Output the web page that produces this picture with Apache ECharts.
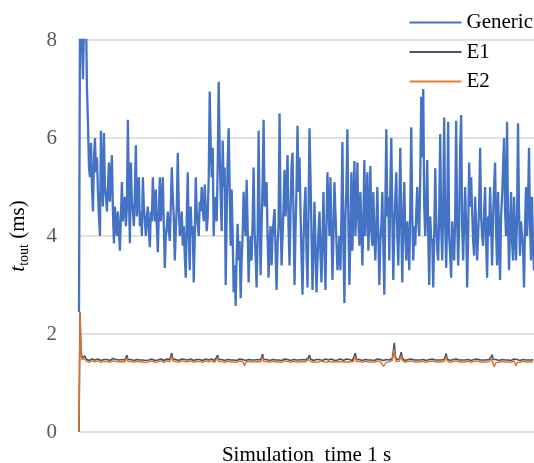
<!DOCTYPE html>
<html>
<head>
<meta charset="utf-8">
<title>t_tout over simulation time</title>
<script src="https://cdn.jsdelivr.net/npm/echarts@6/dist/echarts.min.js"></script>
<style>
  html, body { margin: 0; padding: 0; background: #ffffff; }
  #chart { width: 534px; height: 463px; }
</style>
</head>
<body>
<div id="chart"></div>
<script>
// Series names shown in the legend
const seriesNames = ['Generic', 'E1', 'E2'];
const seriesColors = ['#4472C4', '#44546A', '#ED7D31'];

// Y axis range and tick step (ms)
const yMin = 0;
const yMax = 8;
const yStep = 2;

// Generic timeout samples (ms) over the 1 s simulation
const genericValues = [
  2.45, 8.5, 8.8, 7.9, 7.2, 8.4, 8.6, 8.5, 7.0, 6.3,
  5.4, 5.2, 5.9, 5.0, 4.5, 5.6, 6.0, 5.3, 5.6, 4.9,
  4.4, 4.0, 6.15, 5.2, 4.6, 6.1, 5.0, 4.8, 4.5, 5.0,
  5.5, 4.7, 5.2, 5.65, 4.5, 3.85, 4.6, 4.2, 4.0, 4.5,
  4.1, 3.7, 4.4, 5.1, 4.3, 4.6, 4.8, 4.2, 4.6, 6.37,
  4.8, 3.85, 5.5, 4.7, 4.5, 4.2, 4.9, 5.85, 4.4, 4.8,
  5.2, 4.2, 4.5, 4.0, 5.2, 4.6, 4.3, 4.0, 4.4, 4.6,
  4.1, 3.77, 4.5, 4.3, 5.2,

  4.6, 4.3, 4.95, 4.2, 3.67, 4.5, 5.2, 4.3, 4.7, 5.2,
  4.2, 3.35, 4.0, 4.2, 4.5, 4.1, 3.9, 4.6, 5.4, 4.8,
  4.4, 3.5, 4.1, 4.6, 5.7, 4.6, 4.0, 4.2, 4.5, 3.8,
  4.2, 3.6, 3.15, 4.4, 5.3, 4.0, 3.3, 4.6, 4.0, 4.2,
  3.05, 4.0, 5.2, 4.5, 4.2, 4.0, 4.7, 4.5, 5.0, 4.6,
  4.3, 5.05, 4.6, 4.1, 4.4, 5.2, 6.95, 5.85, 5.2, 5.8,
  4.0, 4.8, 4.5, 4.3, 5.4, 7.15, 5.75, 4.8, 4.1, 5.95,
  5.0, 5.4, 3.0, 4.4, 5.5, 6.2, 5.0, 3.8,

  4.95, 4.0, 2.85, 3.4, 2.57, 3.6, 4.25, 3.5, 3.9, 2.73,
  3.5, 4.0, 4.9, 4.3, 4.0, 5.15, 4.2, 3.05, 3.8, 4.0,
  3.5, 4.3, 5.4, 4.1, 3.6, 2.95, 4.0, 6.15, 4.4, 3.2,
  4.2, 5.1, 6.37, 4.6, 4.9, 5.1, 4.0, 3.15, 3.9, 4.2,
  3.4, 4.0, 4.3, 4.55, 3.7, 2.9, 3.8, 4.2, 6.5, 4.5,
  3.4, 4.0, 4.6, 5.35, 4.4, 4.9, 5.65, 4.2, 3.4, 4.5,
  5.4, 5.7, 4.4, 3.0, 4.1, 5.0, 6.25, 4.9, 5.6, 4.5,
  3.6, 2.8, 3.9, 4.6, 5.0, 3.7, 2.95, 4.4, 6.2,

  5.2, 4.1, 2.9, 3.6, 4.7, 3.8, 2.85, 3.5, 4.1, 4.5,
  3.6, 3.05, 4.0, 4.9, 3.7, 2.9, 4.2, 5.3, 4.6, 4.0,
  5.2, 4.2, 3.1, 4.0, 5.1, 4.5, 3.9, 3.3, 3.6, 4.0,
  3.3, 4.4, 5.92, 3.8, 2.63, 4.4, 5.0, 6.18, 4.2, 3.0,
  4.0, 5.3, 3.7, 4.6, 5.53, 4.0, 4.6, 5.5, 4.3, 3.8,
  4.9, 4.2, 3.4, 4.4, 5.55, 4.0, 4.6, 5.3, 3.7, 4.4,
  5.43, 4.1, 3.8, 4.9, 4.0, 3.5, 4.2, 5.0, 4.0, 3.0,
  3.9, 4.2, 4.9, 3.8, 2.8, 4.6, 6.18, 4.4, 4.8,

  3.5, 5.0, 6.0, 4.4, 3.1, 4.2, 4.8, 5.3, 4.0, 3.4,
  4.5, 5.8, 4.2, 3.05, 4.4, 5.1, 4.0, 3.5, 4.3, 3.9,
  3.3, 4.6, 6.22, 4.4, 3.5, 4.2, 3.8, 4.5, 5.0, 4.3,
  4.0, 5.2, 6.84, 5.6, 7.0, 4.6, 4.0, 4.6, 5.55, 4.0,
  3.0, 4.4, 3.9, 3.95, 2.95, 4.0, 5.38, 4.3, 3.7, 3.5,
  4.5, 6.08, 4.2, 3.5, 4.6, 6.42, 4.2, 3.35, 4.4, 6.33,
  4.0, 3.6, 3.15, 4.3, 3.9, 3.5, 4.4, 6.35, 4.3, 3.4,
  4.2, 5.8, 6.47, 4.2, 3.5, 4.3, 5.0,

  4.2, 2.95, 4.0, 5.5, 4.6, 5.2, 4.5, 3.9, 3.6, 4.8,
  4.2, 3.5, 4.0, 4.6, 5.8, 4.4, 4.0, 3.8, 4.5, 5.0,
  3.9, 3.15, 4.4, 4.0, 5.0, 4.2, 3.4, 4.4, 5.0, 5.5,
  4.1, 3.4, 4.9, 4.0, 3.1, 4.4, 4.8, 5.4, 6.0, 4.5,
  4.0, 6.33, 4.3, 3.3, 4.2, 4.9, 3.9, 3.5, 4.8, 4.1,
  3.5, 4.4, 6.3, 4.5, 3.6, 4.3, 4.0, 3.8, 2.95, 4.2,
  5.0, 4.0, 4.6, 5.8, 4.2, 3.5, 4.8, 3.9, 3.3
];

// E1 timeout samples (ms)
const e1Values = [
  0, 2.45, 1.65, 1.52, 1.48, 1.50, 1.55, 1.49, 1.47, 1.48, 1.46, 1.48, 1.47, 1.49, 1.46, 1.48, 1.47, 1.48, 1.46, 1.49,
  1.47, 1.48, 1.46, 1.47, 1.49, 1.48, 1.46, 1.47, 1.48, 1.49, 1.47, 1.46, 1.48, 1.47, 1.50, 1.47, 1.46, 1.48, 1.47, 1.49,
  1.47, 1.48, 1.46, 1.48, 1.47, 1.49, 1.47, 1.50, 1.57, 1.48, 1.47, 1.46, 1.48, 1.47, 1.49, 1.46, 1.48, 1.47, 1.48, 1.46,
  1.49, 1.47, 1.48, 1.46, 1.47, 1.49, 1.48, 1.46, 1.47, 1.50, 1.47, 1.48, 1.46, 1.49, 1.47, 1.48, 1.46, 1.47, 1.49, 1.47,
  1.48, 1.46, 1.49, 1.47, 1.48, 1.46, 1.47, 1.48, 1.49, 1.47, 1.46, 1.48, 1.50, 1.61, 1.49, 1.47, 1.46, 1.48, 1.47, 1.49,
  1.46, 1.48, 1.47, 1.49, 1.47, 1.46, 1.48, 1.47, 1.50, 1.47, 1.48, 1.46, 1.49, 1.47, 1.48, 1.46, 1.47, 1.49, 1.48, 1.46,
  1.47, 1.48, 1.49, 1.47, 1.46, 1.48, 1.47, 1.49, 1.46, 1.48, 1.47, 1.48, 1.46, 1.49, 1.47, 1.48, 1.46, 1.47, 1.50, 1.57,
  1.48, 1.47, 1.46, 1.48, 1.47, 1.49, 1.46, 1.48, 1.47, 1.48, 1.46, 1.49, 1.47, 1.48, 1.46, 1.47, 1.49, 1.48, 1.46, 1.47,
  1.48, 1.49, 1.47, 1.46, 1.48, 1.47, 1.49, 1.46, 1.48, 1.47, 1.48, 1.46, 1.49, 1.47, 1.48, 1.46, 1.47, 1.49, 1.47, 1.48,
  1.46, 1.48, 1.47, 1.50, 1.59, 1.48, 1.47, 1.46, 1.48, 1.47, 1.49, 1.46, 1.48, 1.47, 1.48, 1.46, 1.49, 1.47, 1.48, 1.46,
  1.47, 1.49, 1.48, 1.46, 1.47, 1.48, 1.49, 1.47, 1.46, 1.48, 1.47, 1.49, 1.46, 1.48, 1.47, 1.48, 1.46, 1.49, 1.47, 1.48,
  1.46, 1.47, 1.49, 1.47, 1.48, 1.46, 1.48, 1.47, 1.49, 1.50, 1.52, 1.57, 1.49, 1.47, 1.48, 1.46, 1.47, 1.49, 1.48, 1.46,
  1.47, 1.48, 1.49, 1.47, 1.46, 1.48, 1.47, 1.49, 1.46, 1.48, 1.47, 1.48, 1.46, 1.49, 1.47, 1.48, 1.46, 1.47, 1.49, 1.47,
  1.48, 1.46, 1.49, 1.47, 1.48, 1.46, 1.47, 1.48, 1.49, 1.47, 1.46, 1.48, 1.47, 1.49, 1.46, 1.48, 1.50, 1.61, 1.48, 1.47,
  1.46, 1.48, 1.47, 1.49, 1.46, 1.48, 1.47, 1.48, 1.46, 1.49, 1.47, 1.48, 1.46, 1.47, 1.49, 1.48, 1.46, 1.47, 1.48, 1.49,
  1.47, 1.46, 1.48, 1.47, 1.49, 1.46, 1.48, 1.47, 1.48, 1.46, 1.49, 1.47, 1.48, 1.46, 1.50, 1.65, 1.82, 1.55, 1.48, 1.47,
  1.46, 1.49, 1.52, 1.63, 1.50, 1.47, 1.48, 1.46, 1.49, 1.47, 1.48, 1.46, 1.47, 1.49, 1.48, 1.46, 1.47, 1.48, 1.49, 1.47,
  1.46, 1.48, 1.47, 1.49, 1.46, 1.48, 1.47, 1.48, 1.46, 1.49, 1.47, 1.48, 1.46, 1.47, 1.49, 1.48, 1.46, 1.47, 1.48, 1.49,
  1.47, 1.46, 1.48, 1.47, 1.49, 1.46, 1.48, 1.52, 1.60, 1.49, 1.47, 1.48, 1.46, 1.49, 1.47, 1.48, 1.46, 1.47, 1.49, 1.48,
  1.46, 1.47, 1.48, 1.49, 1.47, 1.46, 1.48, 1.47, 1.49, 1.46, 1.48, 1.47, 1.48, 1.46, 1.49, 1.47, 1.48, 1.46, 1.47, 1.49,
  1.48, 1.46, 1.47, 1.48, 1.49, 1.47, 1.46, 1.48, 1.47, 1.49, 1.46, 1.48, 1.50, 1.53, 1.58, 1.48, 1.47, 1.46, 1.48, 1.47,
  1.49, 1.46, 1.48, 1.47, 1.48, 1.46, 1.49, 1.47, 1.48, 1.46, 1.47, 1.49, 1.48, 1.46, 1.47, 1.48, 1.49, 1.47, 1.46, 1.48,
  1.47, 1.49, 1.46, 1.48, 1.47, 1.48, 1.46, 1.49, 1.47, 1.48, 1.46, 1.47, 1.49, 1.48, 1.47, 1.48
];

// E2 timeout samples (ms)
const e2Values = [
  0, 2.45, 1.6, 1.48, 1.45, 1.46, 1.50, 1.45, 1.43, 1.44, 1.42, 1.44, 1.43, 1.45, 1.42, 1.44, 1.43, 1.44, 1.42, 1.45,
  1.43, 1.44, 1.42, 1.43, 1.45, 1.44, 1.42, 1.43, 1.44, 1.45, 1.43, 1.42, 1.44, 1.43, 1.45, 1.43, 1.42, 1.44, 1.43, 1.45,
  1.43, 1.44, 1.42, 1.44, 1.43, 1.45, 1.43, 1.46, 1.52, 1.44, 1.43, 1.42, 1.44, 1.43, 1.45, 1.42, 1.44, 1.43, 1.44, 1.42,
  1.45, 1.43, 1.44, 1.42, 1.43, 1.45, 1.44, 1.42, 1.43, 1.41, 1.43, 1.44, 1.42, 1.45, 1.43, 1.44, 1.42, 1.43, 1.45, 1.43,
  1.44, 1.42, 1.45, 1.43, 1.44, 1.42, 1.43, 1.44, 1.45, 1.43, 1.42, 1.44, 1.46, 1.55, 1.45, 1.43, 1.42, 1.44, 1.43, 1.45,
  1.42, 1.44, 1.43, 1.45, 1.43, 1.42, 1.44, 1.43, 1.41, 1.43, 1.44, 1.42, 1.45, 1.43, 1.44, 1.42, 1.43, 1.45, 1.44, 1.42,
  1.43, 1.44, 1.45, 1.43, 1.42, 1.44, 1.43, 1.45, 1.42, 1.44, 1.43, 1.44, 1.42, 1.45, 1.43, 1.44, 1.42, 1.43, 1.46, 1.52,
  1.44, 1.43, 1.42, 1.44, 1.43, 1.45, 1.42, 1.44, 1.43, 1.44, 1.42, 1.45, 1.43, 1.44, 1.42, 1.43, 1.45, 1.44, 1.42, 1.43,
  1.44, 1.45, 1.43, 1.42, 1.44, 1.43, 1.35, 1.42, 1.44, 1.43, 1.44, 1.42, 1.45, 1.43, 1.44, 1.42, 1.43, 1.45, 1.43, 1.44,
  1.42, 1.44, 1.43, 1.46, 1.54, 1.44, 1.43, 1.42, 1.44, 1.43, 1.45, 1.42, 1.44, 1.43, 1.44, 1.42, 1.45, 1.43, 1.44, 1.42,
  1.43, 1.45, 1.44, 1.42, 1.43, 1.44, 1.45, 1.43, 1.42, 1.44, 1.43, 1.45, 1.42, 1.44, 1.43, 1.44, 1.42, 1.45, 1.43, 1.44,
  1.42, 1.43, 1.45, 1.43, 1.44, 1.42, 1.44, 1.43, 1.45, 1.46, 1.48, 1.52, 1.45, 1.43, 1.44, 1.42, 1.43, 1.45, 1.44, 1.42,
  1.43, 1.44, 1.45, 1.43, 1.42, 1.44, 1.43, 1.45, 1.42, 1.44, 1.43, 1.44, 1.42, 1.45, 1.43, 1.44, 1.42, 1.43, 1.45, 1.43,
  1.44, 1.42, 1.45, 1.43, 1.44, 1.42, 1.43, 1.44, 1.45, 1.43, 1.42, 1.44, 1.43, 1.45, 1.42, 1.44, 1.46, 1.55, 1.44, 1.43,
  1.42, 1.44, 1.43, 1.45, 1.42, 1.44, 1.43, 1.44, 1.42, 1.45, 1.43, 1.44, 1.42, 1.43, 1.45, 1.44, 1.42, 1.43, 1.44, 1.45,
  1.43, 1.42, 1.44, 1.43, 1.40, 1.34, 1.33, 1.35, 1.42, 1.44, 1.45, 1.43, 1.44, 1.42, 1.46, 1.58, 1.70, 1.50, 1.44, 1.43,
  1.42, 1.45, 1.48, 1.56, 1.46, 1.43, 1.44, 1.42, 1.45, 1.43, 1.44, 1.42, 1.43, 1.45, 1.44, 1.42, 1.43, 1.44, 1.45, 1.43,
  1.42, 1.44, 1.43, 1.45, 1.42, 1.44, 1.43, 1.44, 1.42, 1.45, 1.43, 1.44, 1.42, 1.43, 1.45, 1.44, 1.42, 1.43, 1.44, 1.45,
  1.43, 1.42, 1.44, 1.43, 1.45, 1.42, 1.44, 1.48, 1.54, 1.45, 1.43, 1.44, 1.42, 1.45, 1.43, 1.44, 1.42, 1.43, 1.45, 1.44,
  1.42, 1.43, 1.44, 1.45, 1.43, 1.42, 1.44, 1.43, 1.45, 1.42, 1.44, 1.43, 1.44, 1.42, 1.45, 1.43, 1.44, 1.42, 1.43, 1.45,
  1.44, 1.42, 1.43, 1.44, 1.45, 1.43, 1.42, 1.44, 1.43, 1.45, 1.42, 1.44, 1.46, 1.49, 1.52, 1.40, 1.33, 1.34, 1.42, 1.43,
  1.45, 1.42, 1.44, 1.43, 1.44, 1.42, 1.45, 1.43, 1.44, 1.42, 1.43, 1.45, 1.44, 1.42, 1.43, 1.44, 1.45, 1.43, 1.35, 1.42,
  1.43, 1.45, 1.42, 1.44, 1.43, 1.44, 1.42, 1.45, 1.43, 1.44, 1.42, 1.43, 1.45, 1.44, 1.43, 1.44
];

// Sample indices used as the category axis
const sampleSteps = genericValues.map((_, i) => i);

const serif = 'Liberation Serif, "Times New Roman", serif';

const chart = echarts.init(document.getElementById('chart'), null, { renderer: 'canvas' });

chart.setOption({
  animation: false,
  backgroundColor: '#ffffff',
  textStyle: { fontFamily: serif },
  grid: { left: 79, right: 0, top: 40, bottom: 31, outerBoundsMode: 'none' },
  legend: {
    orient: 'vertical',
    right: 1,
    top: 12,
    padding: 0,
    icon: 'rect',
    itemWidth: 52,
    itemHeight: 2,
    itemGap: 8.5,
    data: seriesNames.map((name, i) => ({ name, itemStyle: { color: seriesColors[i] } })),
    textStyle: { fontFamily: serif, fontSize: 21, lineHeight: 21, color: '#000000' }
  },
  xAxis: {
    type: 'category',
    data: sampleSteps,
    boundaryGap: false,
    axisLine: { show: false },
    axisTick: { show: false },
    axisLabel: { show: false },
    splitLine: { show: false },
    name: 'Simulation  time 1 s',
    nameLocation: 'middle',
    nameGap: 13,
    nameTextStyle: { fontFamily: serif, fontSize: 21, color: '#000000', verticalAlign: 'top' }
  },
  yAxis: {
    type: 'value',
    min: yMin,
    max: yMax,
    interval: yStep,
    axisLine: { show: false },
    axisTick: { show: false },
    axisLabel: { fontFamily: serif, fontSize: 21, color: '#595959', margin: 22 },
    splitLine: { lineStyle: { color: '#d9d9d9', width: 1.5 } },
    name: '{t|t}{s|tout}{n| (ms)}',
    nameLocation: 'middle',
    nameRotate: 90,
    nameGap: 48,
    nameTextStyle: {
      color: '#000000',
      rich: {
        t: { fontFamily: serif, fontSize: 21, fontStyle: 'italic', lineHeight: 26, verticalAlign: 'middle', color: '#000000' },
        s: { fontFamily: serif, fontSize: 14, lineHeight: 14, verticalAlign: 'bottom', color: '#000000' },
        n: { fontFamily: serif, fontSize: 21, lineHeight: 26, verticalAlign: 'middle', color: '#000000' }
      }
    }
  },
  series: [
    {
      name: seriesNames[0],
      type: 'line',
      data: genericValues,
      symbol: 'none',
      clip: true,
      lineStyle: { color: seriesColors[0], width: 2.3 },
      itemStyle: { color: seriesColors[0] }
    },
    {
      name: seriesNames[1],
      type: 'line',
      data: e1Values,
      symbol: 'none',
      clip: true,
      lineStyle: { color: seriesColors[1], width: 1.6 },
      itemStyle: { color: seriesColors[1] }
    },
    {
      name: seriesNames[2],
      type: 'line',
      data: e2Values,
      symbol: 'none',
      clip: true,
      lineStyle: { color: '#E0701F', width: 1.4 },
      itemStyle: { color: seriesColors[2] }
    }
  ]
});
</script>
</body>
</html>
